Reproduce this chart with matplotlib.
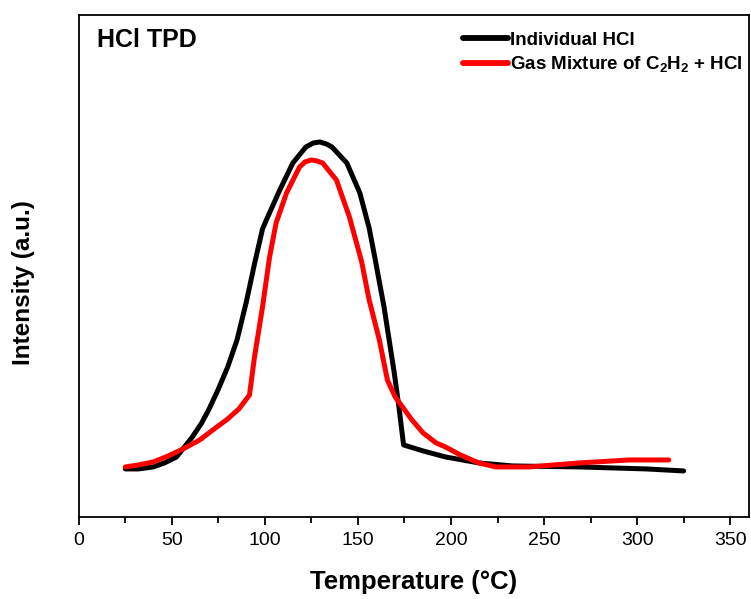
import numpy as np
import matplotlib
matplotlib.use('Agg')
import matplotlib.pyplot as plt
from matplotlib.ticker import MultipleLocator

# temperatures (C) and intensities (a.u.)
black_T = [25, 32, 40, 46, 52.5, 61, 66, 70, 75, 80, 85, 90, 94.5, 98.7,
           101, 108, 115, 122, 126, 129.5, 133, 136, 144, 151, 156, 159,
           164, 169.5, 172, 174.5, 185, 197, 215, 233, 269, 305, 325]
black_I = [48, 48, 50, 54, 60, 80, 94, 108, 128, 150, 177, 215, 254, 288,
           298, 327, 354, 370, 374, 375, 373, 370, 354, 324, 289, 260,
           210, 144, 110, 72, 66, 60, 54, 51, 50, 48, 46]

red_T = [25, 32, 40, 48, 56, 65, 72, 80, 86, 91.7, 94.4, 98.7, 102.5, 106,
         111.6, 118.6, 121.5, 125, 128, 131, 138.4, 145.4, 152, 156, 161.5,
         165.8, 170, 179, 185, 192, 197, 205, 215, 224, 242, 269, 296, 317]
red_I = [50, 52, 55, 61, 68, 77, 87, 98, 108, 122, 160, 210, 260, 294,
         324, 350, 355, 357, 356, 354, 337, 300, 255, 217, 177,
         137, 120, 97, 84, 74, 70, 62, 54, 50, 50, 54, 57, 57]

labels = ['Individual HCl', r'Gas Mixture of C$_\mathbf{2}$H$_\mathbf{2}$ + HCl']

plt.rcParams['font.family'] = ['Liberation Sans', 'DejaVu Sans']
plt.rcParams['mathtext.fontset'] = 'custom'
plt.rcParams['mathtext.bf'] = 'Liberation Sans:bold'
plt.rcParams['mathtext.rm'] = 'Liberation Sans:bold'
plt.rcParams['mathtext.default'] = 'bf'

fig = plt.figure(figsize=(7.51, 5.99), dpi=100)
ax = fig.add_axes([0.105, 0.137, 0.892, 0.838])

ax.plot(black_T, black_I, color='black', lw=3.6, label=labels[0],
        solid_capstyle='round', solid_joinstyle='round')
ax.plot(red_T, red_I, color='red', lw=3.6, label=labels[1],
        solid_capstyle='round', solid_joinstyle='round')

ax.set_xlim(0, 360)
ax.set_ylim(0, 502)
ax.xaxis.set_major_locator(MultipleLocator(50))
ax.xaxis.set_minor_locator(MultipleLocator(25))
ax.set_yticks([])
ax.tick_params(axis='x', which='major', direction='out', length=6, width=1.3,
               labelsize=14, pad=5)
ax.tick_params(axis='x', which='minor', direction='out', length=4, width=1.3)
for s in ax.spines.values():
    s.set_linewidth(1.3)

ax.set_xlabel('Temperature (°C)', fontsize=18.5, fontweight='bold', labelpad=15)
ax.set_ylabel('Intensity (a.u.)', fontsize=17.5, fontweight='bold')
ax.yaxis.set_label_coords(-0.066, 0.466)

ax.text(0.027, 0.936, 'HCl TPD', transform=ax.transAxes, fontsize=18,
        fontweight='bold', va='baseline', ha='left')

leg = ax.legend(loc='upper right', frameon=False, fontsize=13.5,
                handlelength=2.4, handletextpad=0.15, labelspacing=0.3,
                borderpad=0, borderaxespad=0.3, bbox_to_anchor=(1.0, 0.978))
for t in leg.get_texts():
    t.set_fontweight('bold')
for h in leg.get_lines():
    h.set_linewidth(4.2)

fig.savefig('out.png', dpi=100)
